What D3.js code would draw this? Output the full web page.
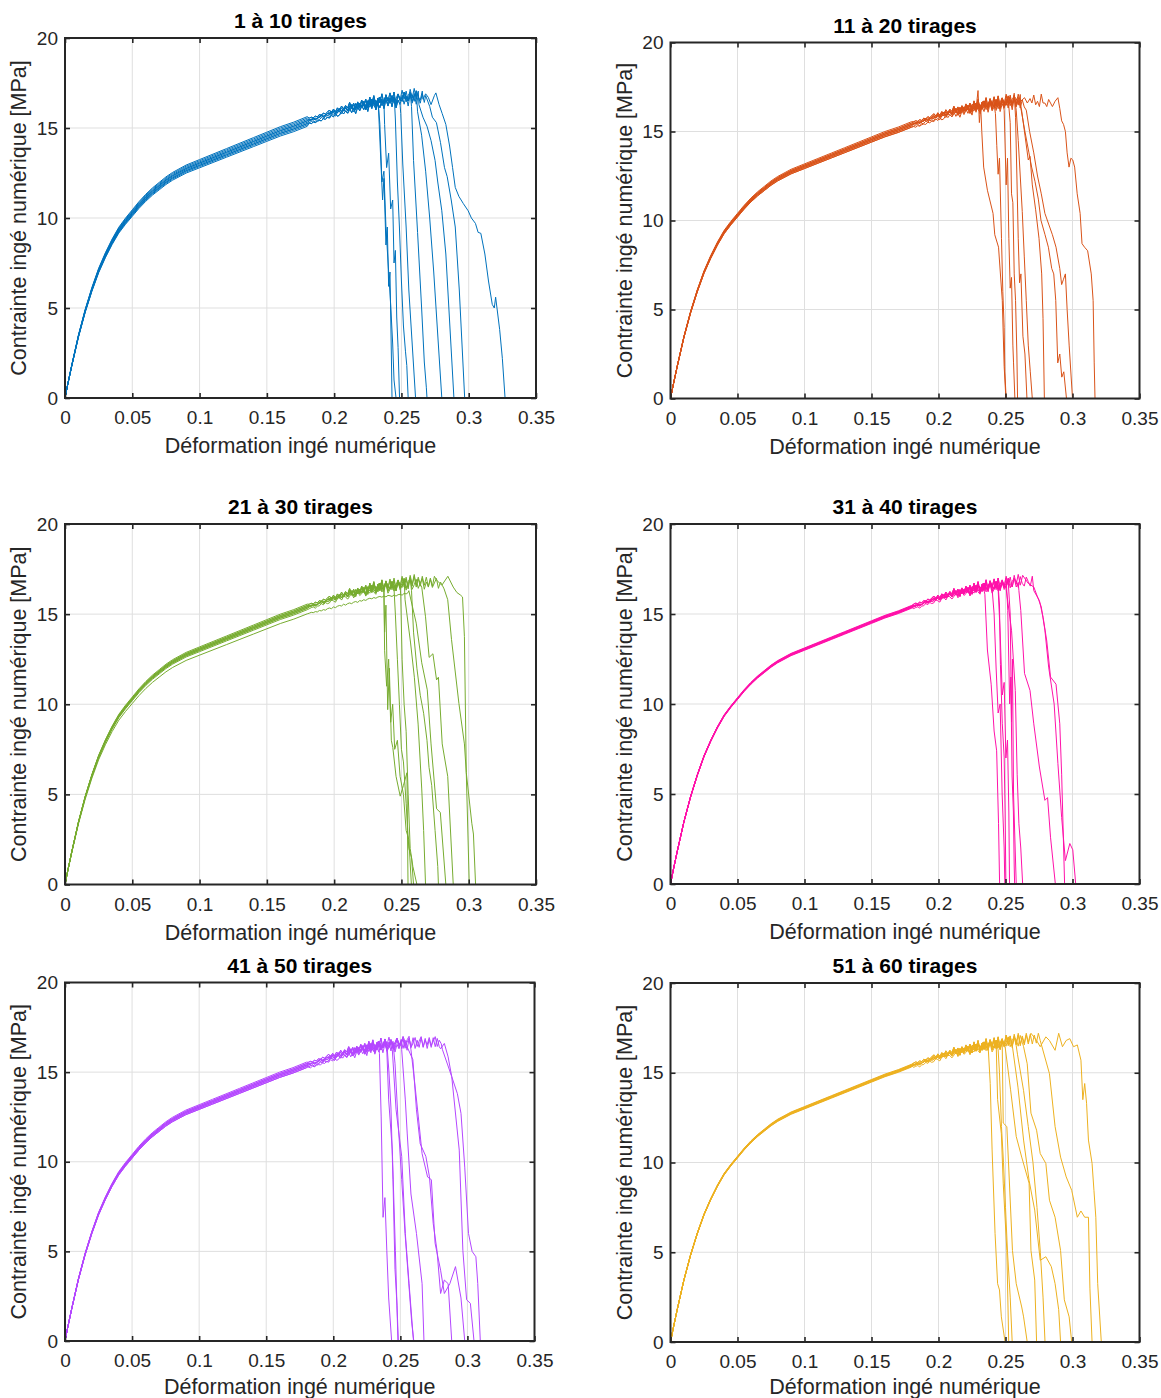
<!DOCTYPE html>
<html><head><meta charset="utf-8">
<script src="https://cdn.jsdelivr.net/npm/d3@7"></script>
<style>body{margin:0;background:#fff}svg{display:block}</style>
</head><body>
<svg id="chart" width="1161" height="1398"></svg>
<script>
// ---------- data ----------
const xTickValues = [0, 0.05, 0.1, 0.15, 0.2, 0.25, 0.3, 0.35];
const xTickLabels = ["0", "0.05", "0.1", "0.15", "0.2", "0.25", "0.3", "0.35"];
const yTickValues = [0, 5, 10, 15, 20];
const yTickLabels = ["0", "5", "10", "15", "20"];
const xLabel = "Déformation ingé numérique";
const yLabel = "Contrainte ingé numérique [MPa]";
const panelTitles = ["1 à 10 tirages", "11 à 20 tirages", "21 à 30 tirages", "31 à 40 tirages", "41 à 50 tirages", "51 à 60 tirages"];
const panelColors = ["#0072BD", "#D95319", "#77AC30", "#FF12A9", "#B446FF", "#EDB120"];

// shared elastic-plastic rise (strain, stress)
const riseStrain = [0, 0.002, 0.005, 0.01, 0.015, 0.02, 0.025, 0.03, 0.035, 0.04, 0.045, 0.05, 0.055, 0.06, 0.065, 0.07, 0.075, 0.08, 0.09, 0.1, 0.11, 0.12, 0.13, 0.14, 0.15, 0.16, 0.17, 0.18];
const riseStress = [0, 0.75, 1.8, 3.45, 4.85, 6.05, 7.1, 7.95, 8.7, 9.35, 9.85, 10.3, 10.75, 11.15, 11.5, 11.8, 12.1, 12.35, 12.75, 13.05, 13.35, 13.65, 13.95, 14.25, 14.55, 14.85, 15.1, 15.4];

// noisy plateau stresses, one sample every 0.0015 of strain from 0.1815
const plateauStart = 0.1815, plateauStep = 0.0015;
const plateauA = [15.45,15.50,15.46,15.55,15.52, 15.66,15.60,15.72,15.68,15.78, 15.90,15.76,15.95,15.82,16.02, 15.88,16.12,15.95,16.15,16.02, 16.32,16.05,16.28,15.98,16.35, 16.12,16.45,16.20,16.50,16.10, 16.62,16.25,16.70,16.18,16.55, 16.30,16.80,16.25,16.75,16.40, 16.85,16.35,16.90,16.30,16.72, 16.45,17.00,16.50,16.95,16.40, 17.05,16.55,17.10,16.50,16.95, 16.55,17.10,16.60,17.05,16.50, 17.00,16.55,17.10,16.60,17.05, 16.60,17.10,16.65];
const plateauB = [15.40,15.47,15.52,15.44,15.56, 15.58,15.70,15.63,15.75,15.70, 15.74,15.92,15.85,15.78,15.99, 16.05,15.90,16.10,16.08,15.95, 16.10,16.30,16.02,16.20,16.38, 16.15,16.25,16.48,16.12,16.40, 16.28,16.60,16.35,16.22,16.65, 16.70,16.35,16.55,16.78,16.28, 16.50,16.82,16.40,16.65,16.90, 16.48,16.70,16.95,16.45,16.80, 17.00,16.50,16.75,17.05,16.55, 16.85,17.10,16.50,16.90,16.65, 17.05,16.60,16.85,17.10,16.55, 16.90,16.70,17.05];
const plateauC = [15.48,15.42,15.55,15.50,15.53, 15.64,15.74,15.60,15.70,15.80, 15.82,15.78,15.96,15.88,15.85, 16.08,15.92,15.98,16.18,15.96, 16.22,16.15,16.00,16.36,16.12, 16.38,16.20,16.30,16.05,16.52, 16.45,16.20,16.58,16.50,16.25, 16.72,16.48,16.35,16.82,16.55, 16.38,16.75,16.62,16.30,16.88, 16.62,16.48,17.00,16.70,16.50, 16.95,16.85,16.48,17.08,16.70, 16.55,17.05,16.80,16.55,17.10, 16.70,16.52,17.05,16.85,16.60, 17.10,16.75,16.60];
const plateauD = [15.28,15.24,15.33,15.30,15.38, 15.42,15.40,15.52,15.48,15.60, 15.55,15.70,15.62,15.80,15.65, 15.72,15.92,15.78,15.95,15.82, 16.10,15.85,16.08,15.80,16.15, 15.95,16.25,16.02,16.30,15.92, 16.42,16.08,16.50,16.00,16.38, 16.12,16.60,16.08,16.58,16.22, 16.68,16.18,16.72,16.12,16.55, 16.30,16.82,16.32,16.78,16.22, 16.88,16.38,16.92,16.32,16.78, 16.38,16.92,16.42,16.88,16.32, 16.82,16.38,16.92,16.42,16.88, 16.42,16.92,16.48];
const plateauE = [15.55,15.60,15.57,15.66,15.62, 15.75,15.70,15.83,15.78,15.88, 16.00,15.86,16.05,15.92,16.12, 15.98,16.22,16.06,16.25,16.12, 16.42,16.15,16.38,16.08,16.45, 16.22,16.55,16.30,16.60,16.20, 16.72,16.35,16.80,16.28,16.65, 16.40,16.90,16.35,16.85,16.50, 16.95,16.45,17.00,16.40,16.82, 16.55,17.10,16.60,17.05,16.50, 17.15,16.65,17.20,16.60,17.05, 16.65,17.20,16.70,17.15,16.60, 17.10,16.65,17.20,16.70,17.15, 16.70,17.20,16.75];
const plateauF = [15.30,15.36,15.40,15.33,15.44, 15.46,15.58,15.52,15.64,15.58, 15.62,15.80,15.73,15.66,15.88, 15.93,15.78,15.98,15.96,15.83, 15.98,16.18,15.90,16.08,16.26, 16.03,16.13,16.36,16.00,16.28, 16.16,16.48,16.23,16.10,16.53, 16.58,16.23,16.43,16.66,16.16, 16.38,16.70,16.28,16.53,16.78, 16.36,16.58,16.83,16.33,16.68, 16.88,16.38,16.63,16.93,16.43, 16.73,16.98,16.38,16.78,16.53, 16.93,16.48,16.73,16.98,16.43, 16.78,16.58,16.93];
const plateauLow = [15.05,15.10,15.08,15.14,15.12, 15.20,15.18,15.25,15.22,15.30, 15.34,15.30,15.40,15.36,15.44, 15.48,15.45,15.55,15.50,15.58, 15.62,15.58,15.66,15.70,15.65, 15.75,15.72,15.80,15.76,15.84, 15.88,15.85,15.92,15.88,15.95, 15.98,15.94,16.00,15.96,16.04, 16.02,15.98,16.06,16.00,16.08, 16.10,16.05,16.15,16.12,16.20, 16.25,16.22,16.30,16.28,16.35, 16.40,16.45,16.50,16.55,16.60, 16.65,16.70,16.72,16.75,16.78, 16.80,16.82,16.85];

// each curve: k = rise level, p = plateau samples, d = failure branch (strain, stress)
const panel1Curves = [
 {k:1.0, p:plateauA, d:[[0.233,16.0],[0.2345,13.5],[0.236,11.0],[0.237,12.2],[0.2385,8.5],[0.2395,9.5],[0.2405,6.2],[0.2415,7.0],[0.2425,2.5],[0.243,0]]},
 {k:0.99, p:plateauF, d:[[0.2375,15.2],[0.239,12.8],[0.2405,13.6],[0.242,10.5],[0.2435,11.0],[0.2445,7.5],[0.2455,8.2],[0.2465,4.5],[0.2475,2.8],[0.2486,0]]},
 {k:1.01, p:plateauE, d:[[0.2455,15.5],[0.247,12.0],[0.2485,9.5],[0.25,6.5],[0.2515,4.0],[0.253,2.6],[0.254,1.8],[0.255,0]]},
 {k:0.985, p:plateauD, d:[[0.2495,15.8],[0.251,13.0],[0.2535,9.5],[0.2555,6.0],[0.258,3.0],[0.2605,0]]},
 {k:1.005, p:plateauC, d:[[0.2575,16.2],[0.259,13.2],[0.262,9.2],[0.265,5.0],[0.267,2.0],[0.2685,0.6],[0.269,0]]},
 {k:0.995, p:plateauB, d:[[0.262,15.9],[0.265,14.6],[0.268,12.6],[0.271,10.0],[0.274,7.0],[0.277,3.5],[0.28,0]]},
 {k:1.015, p:plateauE, d:[[0.263,16.3],[0.266,15.6],[0.269,15.1],[0.272,14.3],[0.275,13.2],[0.277,12.0],[0.28,10.4],[0.283,8.0],[0.286,4.0],[0.289,0]]},
 {k:0.98, p:plateauD, d:[[0.268,16.8],[0.271,16.2],[0.273,15.6],[0.276,15.3],[0.279,14.2],[0.282,12.8],[0.284,12.3],[0.287,11.0],[0.29,9.5],[0.293,6.0],[0.295,3.0],[0.297,0]]},
 {k:1.0, p:plateauC, d:[[0.266,16.6],[0.268,16.9],[0.27,16.7],[0.272,16.3],[0.2745,16.8],[0.2756,16.95],[0.278,16.3],[0.2803,15.8],[0.283,15.2],[0.2858,14.0],[0.288,12.8],[0.29,11.7],[0.2927,11.2],[0.296,10.8],[0.2996,10.4],[0.302,10.0],[0.305,9.7],[0.307,9.2],[0.309,9.15],[0.312,8.0],[0.3147,6.5],[0.3175,5.2],[0.319,5.0],[0.32,5.6],[0.323,3.8],[0.325,2.2],[0.327,0]]},
 {k:0.99, p:plateauB, d:[[0.234,15.2],[0.2355,12.0],[0.237,12.6],[0.2385,9.5],[0.2405,7.0],[0.242,5.2],[0.2435,3.0],[0.2445,1.0],[0.246,0]]}
];
const panel2Curves = [
 {k:1.0, p:plateauA, d:[[0.2295,17.3],[0.2305,15.5],[0.2315,16.4],[0.2323,15.0],[0.2337,13.0],[0.2365,11.7],[0.2407,10.4],[0.242,9.2],[0.2448,8.5],[0.2476,5.5],[0.249,1.8],[0.2503,0]]},
 {k:0.995, p:plateauB, d:[[0.2425,16.0],[0.2435,14.2],[0.2445,12.6],[0.2455,13.5],[0.247,9.0],[0.248,6.0],[0.249,4.0],[0.2495,1.5],[0.2505,0]]},
 {k:1.005, p:plateauE, d:[[0.249,16.2],[0.2505,12.0],[0.2515,13.5],[0.2525,9.0],[0.2535,6.2],[0.2545,6.8],[0.2555,3.0],[0.256,2.0],[0.257,0]]},
 {k:0.99, p:plateauF, d:[[0.2535,15.5],[0.2545,11.5],[0.2555,11.0],[0.2565,7.0],[0.2575,5.5],[0.2585,2.5],[0.259,0]]},
 {k:1.01, p:plateauE, d:[[0.2575,15.8],[0.2585,12.5],[0.2595,9.0],[0.2605,6.5],[0.2615,7.0],[0.263,3.5],[0.2645,2.5],[0.266,0]]},
 {k:0.995, p:plateauC, d:[[0.258,16.2],[0.2595,14.5],[0.261,12.5],[0.2625,10.5],[0.264,8.0],[0.2655,5.5],[0.267,3.0],[0.2685,1.5],[0.27,0]]},
 {k:1.0, p:plateauA, d:[[0.262,16.2],[0.2645,14.8],[0.267,13.4],[0.2683,13.6],[0.27,12.0],[0.2725,10.6],[0.275,9.0],[0.277,7.0],[0.278,4.5],[0.279,0]]},
 {k:1.005, p:plateauC, d:[[0.2615,16.3],[0.2645,15.0],[0.2675,13.8],[0.2695,13.0],[0.272,12.2],[0.2745,11.2],[0.2765,10.0],[0.2795,9.2],[0.282,8.5],[0.2845,7.3],[0.286,7.0],[0.2875,5.5],[0.289,2.0],[0.2905,2.5],[0.292,1.2],[0.2935,1.5],[0.2955,0]]},
 {k:0.99, p:plateauD, d:[[0.2655,16.2],[0.268,15.0],[0.2711,13.8],[0.2739,12.5],[0.2767,11.5],[0.2794,10.4],[0.2822,9.8],[0.285,9.2],[0.2877,8.5],[0.2905,7.3],[0.2919,6.4],[0.2933,6.7],[0.2947,7.0],[0.296,5.0],[0.2975,3.0],[0.3,0]]},
 {k:1.0, p:plateauB, d:[[0.26,16.6],[0.2642,16.9],[0.2663,16.6],[0.2683,16.85],[0.2697,16.6],[0.2711,17.05],[0.2725,16.5],[0.2739,16.7],[0.2753,16.4],[0.2767,17.1],[0.278,16.6],[0.2794,16.6],[0.2808,16.4],[0.2822,16.8],[0.2836,16.6],[0.285,16.4],[0.287,16.7],[0.2891,16.9],[0.2905,16.3],[0.2919,15.6],[0.2933,15.4],[0.2947,15.0],[0.296,13.8],[0.2974,13.0],[0.2988,13.5],[0.3002,13.4],[0.3016,13.0],[0.3035,11.5],[0.3057,10.4],[0.3071,8.7],[0.309,8.5],[0.3113,8.3],[0.314,7.0],[0.3154,5.5],[0.3162,2.0],[0.3168,0]]}
];
const panel3Curves = [
 {k:1.0, p:plateauA, d:[[0.2375,14.0],[0.2385,15.5],[0.2398,9.7],[0.241,12.0],[0.2425,8.0],[0.2436,7.6],[0.246,6.0],[0.2491,4.9],[0.2515,5.5],[0.2541,6.2],[0.2549,0]]},
 {k:1.005, p:plateauE, d:[[0.2375,13.0],[0.239,11.0],[0.2405,12.5],[0.242,9.0],[0.2435,10.0],[0.245,7.5],[0.247,8.0],[0.249,6.0],[0.2515,5.0],[0.2535,3.0],[0.2555,2.5],[0.2574,0]]},
 {k:0.995, p:plateauB, d:[[0.2455,15.0],[0.247,12.5],[0.2485,10.0],[0.25,7.5],[0.2515,6.8],[0.2535,4.5],[0.2555,2.0],[0.2575,1.5],[0.259,0]]},
 {k:1.0, p:plateauC, d:[[0.2527,15.8],[0.2568,13.4],[0.2596,11.5],[0.2624,8.9],[0.2651,5.3],[0.2665,3.0],[0.2679,0]]},
 {k:0.975, p:plateauLow, d:[[0.2555,16.3],[0.261,14.5],[0.2651,12.3],[0.2692,10.8],[0.272,7.8],[0.2761,4.2],[0.2789,4.0],[0.283,0]]},
 {k:1.01, p:plateauE, d:[[0.2651,16.5],[0.2679,14.85],[0.2706,12.6],[0.2734,12.8],[0.2761,11.35],[0.2775,11.5],[0.2803,7.8],[0.2844,6.0],[0.2885,0]]},
 {k:0.99, p:plateauF, d:[[0.2817,16.4],[0.2844,15.8],[0.2872,13.6],[0.2927,10.05],[0.2968,7.8],[0.2982,6.2],[0.3004,0]]},
 {k:1.0, p:plateauA, d:[[0.276,16.9],[0.28,16.6],[0.2845,17.1],[0.2885,16.5],[0.2912,16.2],[0.294,16.05],[0.2954,15.95],[0.2968,13.75],[0.2982,6.2],[0.3023,3.4],[0.3035,2.8],[0.3051,0]]},
 {k:1.005, p:plateauC, d:[[0.2495,16.0],[0.2505,12.5],[0.252,10.0],[0.2535,8.5],[0.255,5.0],[0.2565,2.0],[0.2585,1.0],[0.2615,0]]},
 {k:0.995, p:plateauB, d:[[0.2575,16.3],[0.259,14.0],[0.2615,12.0],[0.264,10.5],[0.2665,9.5],[0.269,8.0],[0.2705,6.5],[0.2725,5.5],[0.275,3.0],[0.277,1.0],[0.2775,0]]}
];
const panel4Curves = [
 {k:1.0, p:plateauA, d:[[0.2346,16.1],[0.2365,13.0],[0.2393,11.1],[0.2415,8.5],[0.2434,7.4],[0.2448,3.35],[0.2456,0]]},
 {k:1.003, p:plateauC, d:[[0.2455,15.5],[0.2462,12.2],[0.2476,8.9],[0.249,7.05],[0.2497,4.0],[0.2503,0]]},
 {k:0.997, p:plateauB, d:[[0.246,14.0],[0.2476,10.5],[0.249,11.2],[0.2503,7.0],[0.2515,8.0],[0.2525,4.0],[0.253,0]]},
 {k:1.0, p:plateauA, d:[[0.2517,15.2],[0.2531,10.0],[0.254,11.5],[0.2549,6.0],[0.2559,4.0],[0.2565,1.0],[0.2568,0]]},
 {k:1.005, p:plateauE, d:[[0.2503,16.5],[0.2545,14.1],[0.2573,10.75],[0.2587,6.1],[0.26,3.35],[0.2614,2.0],[0.2628,0]]},
 {k:0.995, p:plateauB, d:[[0.26,16.3],[0.2614,15.2],[0.2642,11.7],[0.2683,10.75],[0.2711,8.9],[0.2753,6.5],[0.2794,4.65],[0.2814,4.8],[0.2836,2.6],[0.2872,0]]},
 {k:1.0, p:plateauC, d:[[0.2711,16.3],[0.2753,15.75],[0.2781,14.8],[0.2808,13.5],[0.2836,11.5],[0.2877,11.1],[0.2905,8.9],[0.2919,6.1],[0.2941,0]]},
 {k:1.002, p:plateauE, d:[[0.2628,17.15],[0.267,16.7],[0.2711,16.5],[0.2767,15.4],[0.2794,14.1],[0.2822,12.05],[0.2863,10.0],[0.2891,6.7],[0.2919,3.7],[0.2947,1.3],[0.298,2.25],[0.3002,1.9],[0.3024,0]]},
 {k:0.998, p:plateauF, d:[[0.2535,15.0],[0.2545,9.0],[0.2552,12.5],[0.256,5.0],[0.2572,2.0],[0.258,0]]},
 {k:1.0, p:plateauA, d:[[0.2415,15.0],[0.243,12.0],[0.2445,9.5],[0.246,10.0],[0.2475,5.0],[0.249,2.0],[0.2495,0]]}
];
const panel5Curves = [
 {k:1.0, p:plateauA, d:[[0.2344,16.05],[0.2357,12.5],[0.2371,6.9],[0.2385,8.0],[0.2399,5.05],[0.2413,2.4],[0.2435,0]]},
 {k:0.99, p:plateauF, d:[[0.2399,16.25],[0.2413,13.45],[0.244,10.65],[0.2463,5.05],[0.2482,0]]},
 {k:1.01, p:plateauE, d:[[0.244,16.25],[0.2468,12.9],[0.251,10.3],[0.2537,6.0],[0.2565,3.2],[0.2598,0]]},
 {k:0.995, p:plateauB, d:[[0.251,16.25],[0.2537,13.45],[0.2551,11.6],[0.2579,8.2],[0.262,6.0],[0.2662,3.2],[0.2676,0]]},
 {k:1.005, p:plateauC, d:[[0.2551,16.4],[0.2593,15.7],[0.262,12.9],[0.2648,11.0],[0.269,10.3],[0.2717,9.15],[0.2745,6.55],[0.2773,5.05],[0.28,2.65],[0.2828,3.4],[0.2856,3.2],[0.2883,0]]},
 {k:0.99, p:plateauB, d:[[0.2579,16.25],[0.2607,14.4],[0.2634,12.5],[0.2662,10.45],[0.2703,9.15],[0.2731,9.0],[0.2759,5.45],[0.28,3.95],[0.2828,2.65],[0.2869,3.2],[0.2911,4.15],[0.2952,2.4],[0.298,0]]},
 {k:1.0, p:plateauD, d:[[0.28,16.3],[0.2828,16.6],[0.2856,15.85],[0.2883,14.75],[0.2925,13.8],[0.2952,12.7],[0.298,9.7],[0.3008,6.0],[0.3035,5.0],[0.3063,4.7],[0.3077,3.2],[0.3096,0]]},
 {k:1.0, p:plateauF, d:[[0.2814,16.25],[0.2883,14.75],[0.2939,10.65],[0.2966,5.05],[0.2994,2.3],[0.3022,2.1],[0.3049,0]]},
 {k:1.005, p:plateauE, d:[[0.2415,15.0],[0.243,13.0],[0.2445,9.0],[0.246,4.0],[0.2475,2.0],[0.2485,0]]},
 {k:0.995, p:plateauC, d:[[0.246,15.5],[0.2485,12.0],[0.251,9.0],[0.2535,6.0],[0.256,3.5],[0.2585,1.0],[0.26,0]]}
];
const panel6Curves = [
 {k:1.0, p:plateauA, d:[[0.2372,16.25],[0.2386,14.4],[0.24,10.7],[0.2422,6.05],[0.2441,3.25],[0.2455,2.9],[0.2469,1.4],[0.2497,0]]},
 {k:1.003, p:plateauC, d:[[0.2441,13.5],[0.2469,11.6],[0.2483,8.85],[0.251,5.1],[0.2524,0]]},
 {k:0.997, p:plateauB, d:[[0.2483,12.2],[0.251,12.0],[0.2524,9.75],[0.2552,5.1],[0.258,3.25],[0.2621,1.95],[0.2635,1.4],[0.2662,0]]},
 {k:1.0, p:plateauA, d:[[0.2497,16.45],[0.2538,14.05],[0.258,11.45],[0.2621,10.3],[0.2676,8.85],[0.269,5.1],[0.2718,3.45],[0.2732,0]]},
 {k:1.005, p:plateauE, d:[[0.2552,16.45],[0.2593,14.2],[0.2635,11.25],[0.2676,9.0],[0.2718,7.35],[0.2759,4.55],[0.2801,4.75],[0.2842,4.2],[0.287,3.25],[0.2897,1.8],[0.2911,0]]},
 {k:0.995, p:plateauC, d:[[0.2635,16.45],[0.2662,15.5],[0.269,12.75],[0.2732,11.8],[0.2759,10.5],[0.2801,9.95],[0.2828,7.9],[0.287,6.95],[0.2911,5.1],[0.2939,2.35],[0.2975,1.4],[0.2994,0]]},
 {k:1.0, p:plateauB, d:[[0.259,16.0],[0.2635,14.0],[0.267,12.0],[0.2705,10.0],[0.2735,7.5],[0.276,5.0],[0.278,2.5],[0.2795,0]]},
 {k:1.002, p:plateauE, d:[[0.2759,16.8],[0.2828,14.95],[0.287,12.0],[0.2911,10.3],[0.2953,9.2],[0.2994,8.45],[0.3036,6.95],[0.3063,7.3],[0.3091,6.95],[0.3119,6.95],[0.313,3.0],[0.3146,0]]},
 {k:0.998, p:plateauA, d:[[0.269,17.2],[0.2732,16.8],[0.2759,16.45],[0.2801,17.0],[0.2828,16.8],[0.287,16.25],[0.2897,17.2],[0.2925,16.45],[0.2953,16.8],[0.298,16.9],[0.3008,16.45],[0.3036,16.55],[0.3063,15.7],[0.3077,13.5],[0.3091,14.4],[0.3105,13.3],[0.3119,11.25],[0.3146,9.95],[0.316,8.45],[0.3174,6.95],[0.3188,3.25],[0.3215,0]]},
 {k:1.0, p:plateauF, d:[[0.2455,15.0],[0.247,12.0],[0.2485,10.0],[0.25,7.5],[0.2515,5.0],[0.2535,2.5],[0.255,0]]}
];
const panelCurves = [panel1Curves, panel2Curves, panel3Curves, panel4Curves, panel5Curves, panel6Curves];

// ---------- layout (pixels) ----------
const frames = [
  {x0:65,    x1:536,    y0:38,    y1:398,   lab:55},
  {x0:670.5, x1:1139.5, y0:42.5,  y1:398.5, lab:55},
  {x0:65,    x1:536,    y0:524,   y1:884.5, lab:55},
  {x0:670.5, x1:1139.5, y0:524,   y1:884,   lab:55},
  {x0:65,    x1:534.5,  y0:982.5, y1:1341,  lab:53},
  {x0:670.5, x1:1139.5, y0:983,   y1:1342,  lab:52}
];
const FONT = "'Liberation Sans', Arial, Helvetica, sans-serif";
const AX = "#262626";

function buildCurve(c) {
  const pts = riseStrain.map((e, i) => [e, riseStress[i] * c.k]);
  const dStart = c.d[0][0];
  c.p.forEach((s, i) => {
    const e = +(plateauStart + i * plateauStep).toFixed(5);
    if (e < dStart) pts.push([e, s]);
  });
  c.d.forEach(p => pts.push(p));
  return pts;
}

const svg = d3.select("#chart");
svg.append("rect").attr("width", 1161).attr("height", 1398).attr("fill", "#fff");

frames.forEach((f, pi) => {
  const x = d3.scaleLinear().domain([0, 0.35]).range([f.x0, f.x1]);
  const y = d3.scaleLinear().domain([0, 20]).range([f.y1, f.y0]);
  const g = svg.append("g");

  g.selectAll(null).data(xTickValues.slice(1, -1)).join("line")
    .attr("x1", d => x(d)).attr("x2", d => x(d)).attr("y1", f.y0).attr("y2", f.y1)
    .attr("stroke", "#dfdfdf").attr("stroke-width", 1);
  g.selectAll(null).data(yTickValues.slice(1, -1)).join("line")
    .attr("y1", d => y(d)).attr("y2", d => y(d)).attr("x1", f.x0).attr("x2", f.x1)
    .attr("stroke", "#dfdfdf").attr("stroke-width", 1);

  const clipId = "clip" + pi;
  svg.append("clipPath").attr("id", clipId).append("rect")
    .attr("x", f.x0).attr("y", f.y0 - 2).attr("width", f.x1 - f.x0).attr("height", f.y1 - f.y0 + 2);
  const line = d3.line().x(d => x(d[0])).y(d => y(d[1]));
  g.append("g").attr("clip-path", `url(#${clipId})`)
    .selectAll("path").data(panelCurves[pi].map(buildCurve)).join("path")
    .attr("d", line).attr("fill", "none")
    .attr("stroke", panelColors[pi]).attr("stroke-width", 1).attr("stroke-linejoin", "round");

  const tl = 5;
  const axB = g.append("g").attr("transform", `translate(0,${f.y1})`)
    .call(d3.axisBottom(x).tickValues(xTickValues).tickSize(-tl).tickPadding(13)
      .tickFormat((d, i) => xTickLabels[i]));
  const axT = g.append("g").attr("transform", `translate(0,${f.y0})`)
    .call(d3.axisTop(x).tickValues(xTickValues).tickSize(-tl).tickFormat(""));
  const axL = g.append("g").attr("transform", `translate(${f.x0},0)`)
    .call(d3.axisLeft(y).tickValues(yTickValues).tickSize(-tl).tickPadding(7)
      .tickFormat((d, i) => yTickLabels[i]));
  const axR = g.append("g").attr("transform", `translate(${f.x1},0)`)
    .call(d3.axisRight(y).tickValues(yTickValues).tickSize(-tl).tickFormat(""));
  [axB, axT, axL, axR].forEach(a => {
    a.select(".domain").remove();
    a.selectAll(".tick line").attr("stroke", AX).attr("stroke-width", 1.6);
    a.selectAll(".tick text").attr("fill", AX).style("font-family", FONT).style("font-size", "19px");
  });
  g.append("rect").attr("x", f.x0).attr("y", f.y0).attr("width", f.x1 - f.x0).attr("height", f.y1 - f.y0)
    .attr("fill", "none").attr("stroke", AX).attr("stroke-width", 2);

  const cx = (f.x0 + f.x1) / 2, cy = (f.y0 + f.y1) / 2;
  g.append("text").attr("x", cx).attr("y", f.y0 - 10).attr("text-anchor", "middle")
    .style("font-family", FONT).style("font-size", "21px").style("font-weight", "bold").attr("fill", "#000")
    .text(panelTitles[pi]);
  g.append("text").attr("x", cx).attr("y", f.y1 + f.lab).attr("text-anchor", "middle")
    .style("font-family", FONT).style("font-size", "21.5px").attr("fill", AX).text(xLabel);
  g.append("text").attr("transform", `translate(${f.x0 - 39},${cy}) rotate(-90)`).attr("text-anchor", "middle")
    .style("font-family", FONT).style("font-size", "21.5px").attr("fill", AX).text(yLabel);
});
</script>
</body></html>
